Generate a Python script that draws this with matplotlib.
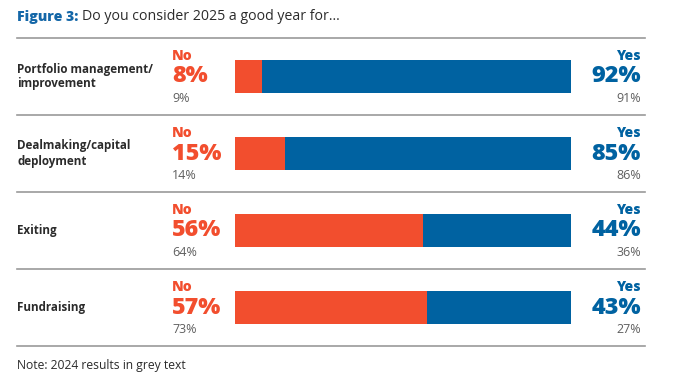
import matplotlib.pyplot as plt
import matplotlib.transforms as mtransforms
from matplotlib.lines import Line2D

plt.rcParams['font.family'] = ['Open Sans', 'DejaVu Sans']

categories = ['Portfolio management/\nimprovement', 'Dealmaking/capital\ndeployment',
              'Exiting', 'Fundraising']
no_2025 = [8, 15, 56, 57]
yes_2025 = [92, 85, 44, 43]
no_2024 = [9, 14, 64, 73]
yes_2024 = [91, 86, 36, 27]

orange = '#F24E2E'
blue = '#0062A1'
dark = '#2b2b2b'
grey = '#5f5f5f'

W, H = 683, 379
fig = plt.figure(figsize=(W / 100, H / 100), dpi=100)
ax = fig.add_axes([235 / W, 1 - 346 / H, 336 / W, 308 / H])

y = range(len(categories))
ax.barh(y, no_2025, height=0.42, color=orange)
ax.barh(y, yes_2025, left=no_2025, height=0.42, color=blue)
ax.set_xlim(0, 100)
ax.set_ylim(len(categories) - 0.5, -0.5)
ax.axis('off')

tr = mtransforms.blended_transform_factory(fig.transFigure, ax.transData)
xl, xno, xyes, xr = 17 / W, 172 / W, 641 / W, 645 / W

for i, cat in enumerate(categories):
    fig.text(xl, i, cat, transform=tr, ha='left', va='center', fontsize=8.4,
             fontweight='bold', color=dark, linespacing=1.2)
    fig.text(xno, i - 0.27, 'No', transform=tr, ha='left', va='center',
             fontsize=10, fontweight=800, color=orange)
    fig.text(xno, i, f'{no_2025[i]}%', transform=tr, ha='left', va='center',
             fontsize=16.8, fontweight=800, color=orange)
    fig.text(xno, i + 0.29, f'{no_2024[i]}%', transform=tr, ha='left', va='center',
             fontsize=9, color=grey)
    fig.text(xyes, i - 0.27, 'Yes', transform=tr, ha='right', va='center',
             fontsize=10, fontweight=800, color=blue)
    fig.text(xyes, i, f'{yes_2025[i]}%', transform=tr, ha='right', va='center',
             fontsize=16.8, fontweight=800, color=blue)
    fig.text(xyes, i + 0.29, f'{yes_2024[i]}%', transform=tr, ha='right', va='center',
             fontsize=9, color=grey)

for b in [-0.5 + k for k in range(len(categories) + 1)]:
    fig.add_artist(Line2D([xl, xr], [b, b], transform=tr, color='#9a9a9a',
                          lw=1.2, clip_on=False))

t1 = fig.text(xl, 1 - 17 / H, 'Figure 3:', ha='left', va='center', fontsize=10.2,
              fontweight=800, color='#1467A8')
fig.canvas.draw()
bb = t1.get_window_extent()
fig.text(bb.x1 / W + 4 / W, 1 - 17 / H, 'Do you consider 2025 a good year for...',
         ha='left', va='center', fontsize=10.2, color=dark)
fig.text(xl, 1 - 366 / H, 'Note: 2024 results in grey text', ha='left',
         va='center', fontsize=8.7, color=dark)

fig.savefig('out.png', dpi=100, facecolor='white')
